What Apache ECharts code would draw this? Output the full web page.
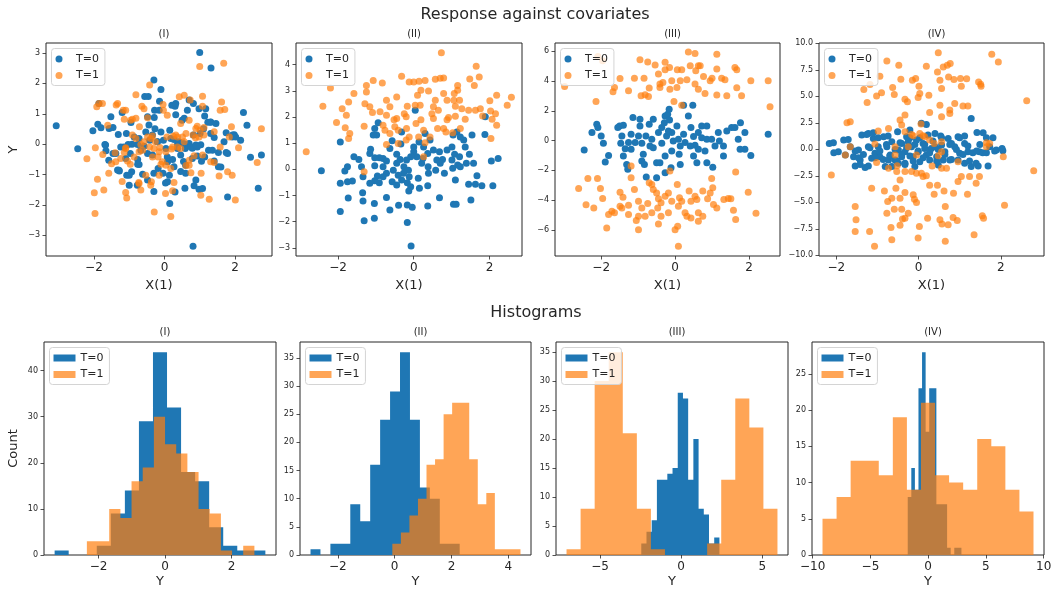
<!DOCTYPE html>
<html><head><meta charset="utf-8">
<script src="https://cdn.jsdelivr.net/npm/echarts@6/dist/echarts.min.js"></script>
<style>html,body{margin:0;padding:0;background:#fff}#c{width:1055px;height:591px}</style>
</head><body><div id="c"></div>
<script>
// ---------------- DATA ----------------
const panelNames = ['(I)', '(II)', '(III)', '(IV)'];
const seriesNames = ['T=0', 'T=1'];

// Scatter: response Y against covariate X(1)
const s1T0 = [[1.0,3.02],[1.32,2.51],[-3.07,0.61],[-2.46,-0.15],[-2.03,0.44],[-1.86,1.34],[-0.30,2.11],[-0.10,1.80],[0.81,-3.36],[2.24,1.04],[2.34,0.62],[2.75,-0.36],[2.44,-0.43],[2.66,-1.45],[1.79,-1.74],[0.15,-1.95],[-0.30,-1.56],[0.30,-1.57],[0.58,-1.45],[0.98,-1.48],[0.84,-1.37],[1.53,-0.74],[1.75,-0.27],[1.53,-0.27],[1.92,0.24],[1.98,0.31],[1.75,0.38],[1.31,0.72],[1.23,0.72],[1.14,0.93],[1.11,0.51],[0.82,1.34],[0.70,1.45],[0.30,1.25],[0.21,1.28],[0.32,0.97],[0.50,0.79],[-0.14,1.41],[-0.28,1.12],[-0.56,1.57],[-0.46,1.57],[-0.48,0.90],[-0.29,0.88],[-0.95,0.71],[-1.20,1.04],[-1.52,0.90],[-1.46,0.55],[-1.31,0.32],[-1.08,0.35],[-0.92,0.00],[-0.97,-0.31],[-1.46,-0.31],[-1.69,-0.01],[-1.66,-0.22],[-1.58,-0.53],[-1.33,-0.85],[-1.07,-1.02],[-0.93,-0.91],[-0.76,-0.50],[-0.72,-0.67],[-0.48,-1.18],[-0.62,-0.99],[-0.18,-0.80],[-0.04,-0.96],[0.03,-1.28],[0.14,-1.02],[0.27,-0.74],[0.46,-0.90],[0.54,-0.57],[0.79,-0.13],[0.70,0.02],[0.93,-0.09],[1.03,-0.02],[0.93,-0.39],[1.14,-0.42],[1.05,-0.56],[1.41,-0.55],[1.25,-0.20],[1.41,0.22],[1.31,0.35],[0.54,0.02],[0.59,-0.14],[0.37,0.00],[0.27,0.15],[0.15,0.46],[-0.03,0.13],[-0.20,0.08],[-0.27,0.51],[-0.34,0.30],[-0.42,0.13],[-0.58,-0.07],[-0.48,-0.31],[-0.76,-0.01],[-0.67,-0.20],[-0.86,0.24],[-1.03,-0.01],[-1.15,-0.09],[-1.24,-0.09],[-0.76,-0.66],[-1.28,-0.88],[0.08,-0.42],[0.23,-0.50],[0.37,-0.14],[0.82,0.30],[1.01,0.35],[2.16,0.13],[1.69,0.08],[0.65,1.12],[-1.89,0.66],[-1.80,0.54],[-1.57,0.52],[-1.67,-0.03],[-1.38,-0.31],[-1.29,-0.86],[-1.00,-1.02],[-0.72,0.19],[-0.53,0.40],[-0.44,0.63],[-0.34,-0.36],[-0.20,0.08],[-0.15,1.12],[-0.10,0.40],[0.04,-0.14],[0.09,-0.58],[0.18,0.19],[0.32,1.34],[0.41,0.08],[0.46,-0.36],[0.56,0.85],[0.60,-0.69],[0.75,-0.09],[0.79,-0.47],[0.89,-0.03],[0.98,1.17],[1.17,1.17],[1.31,0.73],[1.36,-0.20],[1.46,0.68],[1.60,-0.75],[1.79,-0.31],[1.93,0.30],[2.02,0.24],[-1.10,-0.47],[-1.00,-1.35],[-0.77,-1.35],[-0.30,-0.96],[0.09,-1.24],[0.60,-0.96],[0.89,-1.18],[1.08,-1.46]];
const s1T1 = [[1.0,2.56],[1.68,2.66],[-0.42,1.95],[-0.81,1.63],[-1.92,1.23],[-1.76,1.34],[-1.37,1.29],[-1.17,1.12],[-1.14,0.82],[-0.91,0.82],[-0.71,0.57],[-0.64,1.25],[-0.48,0.87],[-0.04,1.31],[0.08,0.95],[0.42,1.56],[0.56,1.61],[0.73,1.45],[1.08,1.58],[1.08,1.25],[1.62,1.39],[1.71,1.14],[1.58,1.12],[1.90,0.57],[2.75,0.51],[2.10,-0.12],[2.63,-0.60],[1.92,-1.02],[2.01,-1.84],[1.27,-1.81],[1.03,-1.68],[1.04,-0.96],[0.75,-0.94],[0.61,-0.70],[0.70,-0.53],[0.84,-0.38],[1.08,-0.36],[0.88,0.21],[1.01,0.46],[0.81,0.30],[0.61,0.35],[0.70,0.79],[0.93,0.59],[1.12,0.55],[0.51,0.24],[0.37,0.24],[0.25,0.26],[0.07,0.24],[0.20,-0.16],[0.04,-0.25],[-0.13,-0.11],[-0.18,-0.42],[-0.10,-0.66],[0.04,-0.69],[0.18,-0.80],[-0.34,-0.42],[-0.42,-0.09],[-0.26,0.08],[-0.34,0.27],[-0.58,0.08],[-0.72,-0.25],[-0.86,-0.42],[-1.05,-0.55],[-0.97,-0.66],[-1.24,-0.47],[-1.40,-0.28],[-1.50,-0.64],[-1.58,-0.96],[-1.10,-0.12],[-1.14,-0.27],[-1.75,-0.34],[-1.96,-0.12],[-2.20,-0.48],[-1.61,0.62],[-1.90,-1.15],[-1.72,-1.51],[-1.99,-1.60],[-1.97,-2.28],[-1.10,-1.59],[-1.07,-1.77],[-1.20,-1.23],[-0.73,-1.26],[-0.67,-1.51],[-0.37,-1.24],[-0.29,-2.23],[0.18,-2.38],[0.03,-1.62],[0.23,-1.53],[0.27,-1.26],[1.41,-0.60],[1.55,-1.05],[1.41,0.41],[1.58,-0.09],[1.84,0.24],[0.46,0.68],[-0.03,1.12],[0.37,-0.09],[-0.48,0.24],[-0.81,0.19],[-0.67,-0.01],[-1.86,1.34],[-1.33,1.34],[-1.10,1.12],[-0.96,0.79],[-0.81,0.85],[-0.58,1.17],[-0.91,0.30],[-0.62,-0.20],[-0.39,0.19],[-0.30,-0.14],[-0.15,-0.25],[-0.06,-0.58],[0.23,-0.09],[0.32,0.30],[0.46,-0.14],[0.56,0.08],[0.89,0.52],[0.98,0.24],[1.12,0.30],[-1.10,-0.14],[-1.38,-0.58],[-0.53,-1.02],[-0.15,-1.02],[-0.72,-1.29],[-0.39,-1.35],[0.70,-0.69],[1.79,-0.91],[1.31,-0.58]];
const s2T0 = [[-0.07,-2.93],[-0.17,-2.03],[-1.31,-1.96],[-1.04,-1.87],[-1.94,-1.61],[-1.73,-1.09],[-1.35,-0.89],[-1.34,-1.21],[-1.04,-1.30],[-0.72,-1.07],[-0.63,-1.55],[-0.40,-1.37],[-0.17,-1.36],[-0.04,-1.45],[0.37,-1.40],[0.68,-1.08],[1.05,-1.33],[1.12,-1.33],[1.51,-1.17],[1.45,-0.57],[1.63,-0.57],[1.80,-0.63],[2.09,-0.63],[2.05,0.32],[2.23,0.42],[1.88,1.33],[1.89,2.01],[1.54,1.31],[1.32,1.12],[1.36,0.86],[1.47,0.58],[1.14,1.43],[1.23,1.24],[1.04,1.31],[1.01,0.86],[1.08,0.58],[1.21,0.48],[1.01,0.36],[1.16,0.17],[1.03,0.04],[1.23,0.10],[1.39,0.23],[1.58,0.23],[1.67,-0.24],[1.10,-0.41],[0.81,-0.15],[0.58,-0.03],[0.39,-0.15],[0.38,0.10],[0.61,0.36],[0.76,0.38],[0.68,0.67],[0.88,0.74],[0.52,0.74],[0.37,0.61],[0.26,0.86],[0.14,1.05],[0.43,1.12],[0.04,2.26],[0.0,0.67],[0.08,0.48],[-0.08,0.48],[-0.19,0.36],[-0.26,0.10],[-0.14,-0.03],[-0.27,-0.15],[-0.12,-0.28],[-0.17,-0.51],[-0.08,-0.66],[-0.13,-0.83],[0.15,-0.72],[0.37,-0.63],[-0.32,-0.41],[-0.41,-0.22],[-0.54,-0.03],[-0.45,0.23],[-0.36,0.38],[-0.45,0.58],[-0.63,0.80],[-0.57,1.09],[-0.34,0.97],[-0.81,0.42],[-0.72,0.32],[-0.91,0.44],[-1.03,0.44],[-1.03,0.14],[-0.81,0.10],[-0.72,-0.15],[-0.81,-0.28],[-0.96,-0.25],[-0.91,-0.51],[-1.03,-0.43],[-1.16,-0.53],[-1.34,-0.28],[-1.38,0.10],[-1.45,0.38],[-1.58,0.48],[-1.16,0.61],[-1.14,0.77],[-0.98,1.31],[-1.07,1.31],[-1.03,1.56],[-0.94,1.78],[-1.94,1.05],[-1.75,0.10],[-1.82,-0.06],[-1.75,-0.47],[-1.62,-0.44],[-1.94,-0.53],[-2.44,-0.05],[-0.32,1.43],[0.70,0.23],[0.21,0.23],[0.24,0.42],[0.0,0.86],[0.30,1.37],[0.12,-0.34],[-0.45,-0.60],[-0.57,-0.47]];
const s2T1 = [[0.73,4.46],[1.65,3.94],[1.73,3.53],[1.48,3.45],[1.60,3.21],[1.16,3.21],[1.16,3.02],[1.07,2.90],[0.79,2.90],[0.88,2.64],[1.06,2.64],[1.21,2.64],[1.10,2.41],[1.27,2.32],[1.45,2.26],[1.63,2.26],[1.82,2.04],[2.03,2.23],[2.16,2.13],[2.01,2.62],[2.19,2.83],[2.58,2.76],[2.47,2.45],[2.07,1.92],[2.19,1.69],[2.04,1.18],[1.10,2.03],[0.92,1.98],[0.79,1.56],[0.63,1.56],[0.85,1.43],[0.52,1.94],[0.65,2.26],[0.52,2.39],[0.48,2.13],[0.57,2.64],[0.57,3.44],[0.70,3.48],[0.79,3.49],[0.30,3.40],[0.14,3.37],[0.0,3.34],[-0.12,3.34],[0.19,3.02],[0.39,3.00],[0.10,2.83],[0.17,2.45],[0.04,2.45],[0.19,1.90],[0.06,1.75],[0.26,1.50],[0.13,1.24],[-0.12,1.24],[-0.19,1.56],[-0.20,2.01],[-0.17,2.41],[-0.25,2.13],[-0.45,1.94],[-0.52,1.90],[-0.50,1.63],[-0.41,1.50],[-0.63,1.37],[-0.76,1.50],[-0.81,1.69],[-0.72,2.07],[-0.89,2.20],[-0.63,2.39],[-0.72,2.64],[-0.45,2.77],[-0.32,3.56],[-0.83,3.30],[-1.07,3.40],[-1.25,3.21],[-1.25,2.96],[-1.29,2.51],[-1.16,2.39],[-1.09,2.17],[-1.31,1.65],[-1.58,2.90],[-1.72,2.58],[-1.89,2.32],[-1.78,2.07],[-2.04,1.79],[-1.81,1.59],[-1.69,1.37],[-1.72,1.18],[-2.20,3.11],[-2.40,2.41],[-2.84,0.67],[-1.31,-0.09],[-0.72,0.95],[-0.41,0.99],[-0.20,1.12],[0.43,1.24],[0.26,0.48],[0.30,1.02],[0.88,1.90],[1.36,1.92],[1.76,2.32],[1.23,1.56],[1.03,1.40]];
const s3T0 = [[-2.46,-0.63],[-2.25,0.54],[-2.12,1.10],[-2.09,0.88],[-2.0,0.31],[-1.94,-0.18],[-1.89,-1.44],[-1.80,-0.99],[-1.55,0.88],[-1.50,0.99],[-1.40,1.03],[-1.44,0.31],[-1.47,-0.18],[-1.40,-1.03],[-1.31,-1.60],[-1.28,-1.93],[-1.14,1.55],[-1.19,0.43],[-1.26,-0.13],[-1.19,-0.58],[-1.08,-0.13],[-0.99,0.31],[-0.95,1.44],[-0.95,0.99],[-0.90,-0.18],[-0.86,-0.92],[-0.90,-1.37],[-0.83,-1.60],[-0.78,-2.45],[-0.70,1.10],[-0.63,0.09],[-0.59,-0.47],[-0.50,-1.48],[-0.50,-2.49],[-0.45,0.54],[-0.36,-0.18],[-0.36,0.88],[-0.29,1.21],[-0.27,1.66],[-0.20,1.78],[-0.16,2.11],[-0.15,1.39],[-0.23,0.31],[-0.27,-1.03],[-0.27,-2.16],[-0.41,-1.48],[-0.09,0.54],[-0.05,-0.02],[-0.09,-0.70],[0.09,0.09],[0.11,-0.92],[0.23,0.43],[0.27,-0.13],[0.23,2.38],[0.48,2.38],[0.36,1.66],[0.43,0.88],[0.50,0.27],[0.54,-0.31],[0.50,-1.03],[0.59,-1.48],[0.63,0.54],[0.72,0.99],[0.86,0.99],[0.72,0.20],[0.86,0.09],[0.81,-0.70],[0.86,-1.48],[1.02,-1.78],[0.99,0.09],[1.17,0.54],[1.20,-0.02],[1.31,-0.36],[1.31,-1.03],[1.40,0.65],[1.53,0.88],[1.62,0.88],[1.71,0.09],[1.77,1.21],[1.89,0.54],[1.89,-0.58],[1.76,-0.58],[2.05,-0.99],[2.52,0.43],[0.14,-1.60],[-0.11,-1.82],[-0.79,0.31],[-0.68,-0.36],[-1.35,-0.54],[0.05,0.99],[0.41,-0.36],[1.08,-0.36],[0.63,-0.58],[-0.18,0.65],[-0.59,1.44],[0.14,-0.36]];
const s3T1 = [[-2.99,3.64],[-2.14,2.63],[-2.09,5.66],[-1.96,5.37],[-1.68,3.28],[-1.64,3.57],[-1.49,4.18],[-1.26,3.35],[-1.10,4.20],[-0.95,5.44],[-0.84,4.20],[-0.74,5.28],[-0.92,3.01],[-0.81,3.08],[-0.70,3.53],[-0.54,5.08],[-0.45,4.47],[-0.41,3.57],[-0.41,3.80],[-0.33,3.91],[-0.27,5.26],[-0.27,4.76],[-0.15,4.92],[-0.09,4.02],[-0.03,2.63],[0.06,4.76],[0.14,4.02],[0.18,4.76],[0.32,4.09],[0.36,5.95],[0.41,5.03],[0.54,5.85],[0.56,4.70],[0.63,5.03],[0.68,5.03],[0.77,4.31],[0.81,3.17],[0.95,4.02],[1.13,5.80],[1.13,4.81],[1.26,4.20],[1.35,4.09],[1.40,3.01],[1.62,4.92],[1.67,4.76],[1.67,3.55],[1.80,3.01],[2.05,4.02],[2.52,4.02],[2.57,2.27],[0.18,2.38],[0.63,3.46],[1.13,3.06],[0.05,3.57],[-0.72,2.97],[-0.14,3.46],[0.54,3.80],[1.0,4.20],[-2.61,-3.21],[-2.36,-2.54],[-2.10,-2.54],[-2.41,-4.31],[-2.20,-4.52],[-2.02,-3.21],[-1.96,-3.89],[-1.85,-5.87],[-1.80,-4.97],[-1.71,-4.74],[-1.64,-4.85],[-1.49,-3.46],[-1.41,-3.80],[-1.49,-4.40],[-1.26,-4.34],[-1.19,-1.71],[-1.19,-2.49],[-1.10,-3.28],[-0.99,-4.07],[-1.26,-4.97],[-1.05,-5.37],[-0.99,-5.98],[-0.99,-5.08],[-0.81,-5.08],[-0.74,-4.22],[-0.70,-2.83],[-0.63,-2.94],[-0.63,-4.85],[-0.59,-3.28],[-0.50,-3.51],[-0.45,-3.91],[-0.47,-4.52],[-0.45,-5.60],[-0.38,-5.08],[-0.38,-4.18],[-0.27,-3.73],[-0.18,-3.51],[-0.18,-4.85],[-0.14,-2.04],[-0.09,-4.07],[0.0,-5.98],[0.07,-5.75],[0.09,-7.10],[0.06,-2.94],[0.12,-3.84],[0.18,-4.07],[0.27,-4.85],[0.32,-5.08],[0.38,-3.39],[0.43,-4.07],[0.43,-5.19],[0.59,-3.96],[0.63,-4.85],[0.63,-5.42],[0.75,-3.39],[0.75,-5.08],[0.88,-3.91],[0.95,-3.51],[1.02,-3.17],[0.99,-2.54],[1.04,-4.29],[1.32,-3.96],[1.44,-3.89],[1.51,-3.91],[1.58,-4.67],[1.64,-2.11],[1.64,-5.30],[1.98,-3.46],[2.19,-4.88],[-1.44,-4.52],[-0.90,-4.52],[1.13,-4.52],[0.54,-3.73],[0.09,-4.40]];
const s4T0 = [[-2.17,0.56],[-2.06,-0.31],[-1.82,0.88],[-1.66,0.25],[-1.58,-0.69],[-1.54,-1.57],[-1.42,-1.0],[-1.38,1.35],[-1.30,-1.72],[-1.22,1.50],[-1.22,0.25],[-1.10,1.03],[-1.06,-0.38],[-0.94,-0.69],[-0.85,1.19],[-0.81,-1.63],[-0.77,0.25],[-0.69,-0.53],[-0.65,0.72],[-0.57,-1.0],[-0.51,1.66],[-0.49,-0.06],[-0.41,0.56],[-0.41,-0.69],[-0.33,-1.32],[-0.29,1.19],[-0.21,1.82],[-0.17,0.25],[-0.13,-0.69],[-0.05,0.88],[-0.01,-0.22],[0.03,-1.16],[0.07,2.45],[0.11,0.56],[0.19,-0.53],[0.23,1.35],[0.31,0.09],[0.40,1.50],[0.44,-0.69],[0.48,-1.47],[0.56,0.41],[0.64,-0.22],[0.72,1.03],[0.76,-1.0],[0.88,0.25],[0.96,1.19],[1.0,-0.38],[1.12,-1.32],[1.20,-0.22],[1.28,2.92],[1.28,-1.63],[1.40,-1.32],[1.42,1.60],[1.48,-0.22],[1.65,1.10],[1.69,-1.57],[1.73,0.25],[1.89,-0.06],[2.05,-0.13],[-1.46,-0.06],[-0.98,0.25],[-0.73,-1.0],[-0.33,-0.22],[-0.25,0.72],[0.15,0.09],[0.27,-1.0],[0.80,0.56],[1.12,0.56],[1.32,-0.31],[1.56,-0.31],[-1.78,-0.53],[-0.49,-1.32],[0.60,-1.0],[-0.09,-1.63],[-0.65,-1.63],[-1.14,-0.85],[0.54,1.25],[0.96,-1.0],[0.40,0.25],[-2.07,0.62],[-1.95,-0.23],[-1.71,0.93],[-1.54,-0.16],[-1.46,-0.79],[-1.42,-1.42],[-1.34,-0.48],[-1.26,1.40],[-1.22,-1.57],[-1.18,0.15],[-1.10,1.56],[-1.06,-0.79],[-0.98,1.09],[-0.94,-0.16],[-0.86,-0.95],[-0.78,0.46],[-0.74,1.25],[-0.70,-0.63],[-0.57,-0.01],[-0.53,-1.10],[-0.45,0.62],[-0.41,-0.48],[-0.33,-1.42],[-0.29,0.15],[-0.21,1.09],[-0.21,-0.63],[-0.13,-1.10],[-0.09,0.46],[-0.01,-0.16],[0.03,1.09],[0.11,-0.79],[0.15,0.46],[0.19,2.34],[0.27,-0.32],[0.35,0.78],[0.44,-1.10],[0.48,-0.01],[0.56,1.09],[0.64,-0.48],[0.76,0.46],[0.80,-0.95],[0.92,-0.01],[1.00,1.09],[1.08,-0.48],[1.12,1.25],[1.20,0.31],[1.24,-1.10],[1.41,-0.16],[1.45,-1.57],[1.49,0.46],[1.57,1.56],[1.65,-0.32],[1.81,1.09],[1.85,-0.16],[2.03,0.08]];
const s4T1 = [[0.48,9.12],[1.78,8.97],[1.94,8.24],[-0.77,8.34],[-0.48,7.93],[-0.94,6.90],[-1.18,6.11],[-1.33,5.64],[-1.25,4.42],[-1.02,5.02],[-0.90,5.33],[-0.63,5.83],[-0.59,5.17],[-0.43,6.61],[-0.33,4.73],[-0.27,4.48],[-0.15,6.52],[-0.07,6.68],[0.01,5.96],[0.03,5.27],[-0.01,4.89],[0.19,7.84],[0.25,5.11],[0.27,3.48],[0.46,7.30],[0.52,6.52],[0.56,5.74],[0.60,7.77],[0.70,7.93],[0.77,8.09],[0.73,6.83],[0.86,6.58],[1.02,6.68],[1.17,6.65],[1.04,5.96],[0.88,4.33],[1.08,4.08],[1.20,4.08],[0.76,3.70],[0.76,3.39],[0.56,3.07],[0.52,4.17],[1.46,6.36],[1.51,6.14],[1.52,5.96],[2.63,4.58],[-0.33,3.23],[-0.45,2.76],[-0.73,1.97],[-0.98,1.72],[-1.74,2.51],[-1.66,2.60],[-1.66,0.25],[-2.12,-2.41],[-1.78,-0.53],[-1.06,0.50],[-1.02,-1.25],[-0.57,0.25],[-0.57,-0.53],[-0.53,-2.10],[-0.41,2.29],[-0.33,1.66],[-0.13,1.29],[0.06,2.38],[0.15,1.19],[0.27,0.88],[0.38,0.56],[0.56,0.72],[0.56,-0.22],[0.48,-0.60],[-0.05,-0.53],[-0.25,0.25],[-0.17,1.41],[0.03,1.50],[0.11,1.29],[-0.73,-1.79],[-0.52,-1.54],[-0.33,-2.10],[-0.17,-2.10],[-0.05,-2.26],[0.11,-2.57],[0.19,-2.48],[0.07,-2.26],[0.33,-1.57],[0.56,-1.79],[0.96,-1.16],[1.24,-2.57],[1.04,-2.57],[0.96,-3.04],[1.48,-2.57],[1.40,-3.20],[1.65,0.25],[1.73,0.56],[1.65,0.63],[2.06,-0.69],[2.80,-2.01],[-1.14,-3.67],[-0.83,-3.92],[-0.55,-3.67],[-0.45,-2.88],[-0.33,-4.08],[-0.65,-4.61],[-0.75,-4.92],[-0.45,-4.61],[-0.13,-4.29],[-0.10,-4.70],[-0.05,-5.02],[0.27,-3.39],[0.38,-4.23],[0.46,-3.39],[0.62,-3.92],[0.85,-4.14],[1.19,-4.23],[2.09,-5.27],[-1.54,-5.39],[-1.52,-6.65],[-1.54,-7.74],[-1.19,-7.74],[-1.07,-9.15],[-0.77,-6.02],[-0.59,-5.64],[-0.41,-5.64],[-0.25,-6.02],[-0.39,-6.58],[-0.33,-6.49],[-0.67,-7.37],[-0.45,-7.15],[-0.65,-8.53],[0.02,-7.27],[-0.01,-8.37],[0.22,-6.49],[0.52,-6.65],[0.57,-7.05],[0.65,-5.39],[0.65,-8.68],[0.72,-7.12],[0.84,-6.43],[0.94,-6.71],[1.35,-8.06],[1.55,-6.27],[1.58,-6.49],[0.68,-1.79]];

// Histograms of Y: [min, max] of each sample and counts per (equal-width) bin
const h1T0Range = [-3.32, 3.02], h1T0Counts = [1,0,0,2,9,14,29,44,32,18,16,6,2,1,1];
const h1T1Range = [-2.35, 2.69], h1T1Counts = [3,3,10,8,16,19,30,24,22,18,10,9,1,0,2];
const h2T0Range = [-2.96, 2.29], h2T0Counts = [1,0,2,2,9,6,16,24,29,36,24,12,10,2,2];
const h2T1Range = [-0.08, 4.43], h2T1Counts = [2,4,7,10,16,17,25,27,27,17,9,11,1,1,1];
const h3T0Range = [-2.46, 2.36], h3T0Counts = [2,4,6,13,13,14,15,28,27,13,20,8,7,2,3];
const h3T1Range = [-7.07, 5.94], h3T1Counts = [1,8,30,35,21,8,1,0,0,0,2,13,27,22,8];
const h4T0Range = [-1.77, 2.88], h4T0Counts = [8,12,9,23,28,17,23,23,7,7,7,1,0,1,1];
const h4T1Range = [-9.15, 9.12], h4T1Counts = [5,8,13,13,11,19,9,21,11,10,9,16,15,9,6];

// Tick values
const scatterXTicks = [[-2,0,2],[-2,0,2],[-2,0,2],[-2,0,2]];
const scatterYTicks = [[-3,-2,-1,0,1,2,3],[-3,-2,-1,0,1,2,3,4],[-6,-4,-2,0,2,4,6],[-10,-7.5,-5,-2.5,0,2.5,5,7.5,10]];
const histXTicks = [[-2,0,2],[-2,0,2,4],[-5,0,5],[-10,-5,0,5,10]];
const histYTicks = [[0,10,20,30,40],[0,5,10,15,20,25,30,35],[0,5,10,15,20,25,30,35],[0,5,10,15,20,25]];

// ---------------- CHART ----------------
const FONT = 'DejaVu Sans';
const TXT = '#262626';
const BLUE = '#1f77b4', ORANGE = '#ff7f0e';
const scatterXRange = [[-3.36,3.05],[-3.11,2.86],[-3.25,2.84],[-2.42,3.05]];
const scatterYRange = [[-3.68,3.33],[-3.31,4.83],[-7.75,6.56],[-10.06,10.03]];
const histXRange = [[-3.64,3.34],[-3.33,4.80],[-7.72,6.59],[-10.06,10.03]];
const histYRange = [[0,46.2],[0,37.8],[0,36.75],[0,29.4]];
const topG = [{l:46,w:226},{l:296,w:226},{l:555,w:225},{l:819,w:225}];
const botG = [{l:44,w:232},{l:300,w:231},{l:556,w:232},{l:812,w:232}];
const TOP_Y = 43, BOT_Y = 342, GH = 213;

const minus = s => String(s).replace('-', '\u2212');
const grids = [], xAxes = [], yAxes = [], series = [], legends = [], titles = [];

function axis(idx, range, ticks, fmt, fontSize, name, nameGap) {
  return {
    type: 'value', gridIndex: idx, min: range[0], max: range[1], scale: true,
    axisLine: {show: false, onZero: false}, splitLine: {show: false},
    axisTick: {show: true, length: 3.5, lineStyle: {color: TXT, width: 0.8}, customValues: ticks},
    axisLabel: {customValues: ticks, formatter: fmt, fontSize: fontSize, color: TXT, fontFamily: FONT, margin: 6},
    name: name || '', nameLocation: 'middle', nameGap: nameGap || 0,
    nameTextStyle: {fontSize: 13, fontFamily: FONT, color: TXT}
  };
}

function legend(gl, gt, icon, iw) {
  return {
    left: gl + 5.5, top: gt + 5.5, orient: 'vertical', selectedMode: false,
    data: [{name: 'T=0', icon: icon, itemStyle: {color: BLUE, opacity: 1}},
           {name: 'T=1', icon: icon, itemStyle: {color: ORANGE, opacity: 0.7}}],
    itemWidth: iw, itemHeight: 7, itemGap: 4.5, padding: [4.5, 6, 4, 4],
    backgroundColor: 'rgba(255,255,255,0.8)', borderColor: '#d4d4d4', borderWidth: 1, borderRadius: 3,
    textStyle: {fontSize: 11, fontFamily: FONT, color: TXT, lineHeight: 12}
  };
}

function histBins(range, counts) {
  const n = counts.length, w = (range[1] - range[0]) / n;
  return counts.map((c, i) => [range[0] + i * w, range[0] + (i + 1) * w, c]);
}
function histSeries(idx, name, range, counts, color, opacity) {
  const bins = histBins(range, counts);
  return {
    type: 'custom', name: name, xAxisIndex: idx, yAxisIndex: idx,
    data: bins, encode: {x: [0, 1], y: 2},
    itemStyle: {color: color, opacity: opacity},
    renderItem: function (params, api) {
      // the whole histogram is drawn as one step outline, built from every bin
      if (params.dataIndex !== 0) return {type: 'group', children: []};
      const pts = [api.coord([bins[0][0], 0])];
      bins.forEach(b => { pts.push(api.coord([b[0], b[2]])); pts.push(api.coord([b[1], b[2]])); });
      pts.push(api.coord([bins[bins.length - 1][1], 0]));
      return {type: 'polygon', shape: {points: pts}, style: {fill: color, opacity: opacity}};
    }
  };
}

const scatterData = [[s1T0, s1T1], [s2T0, s2T1], [s3T0, s3T1], [s4T0, s4T1]];
const histData = [[[h1T0Range,h1T0Counts],[h1T1Range,h1T1Counts]],[[h2T0Range,h2T0Counts],[h2T1Range,h2T1Counts]],
                  [[h3T0Range,h3T0Counts],[h3T1Range,h3T1Counts]],[[h4T0Range,h4T0Counts],[h4T1Range,h4T1Counts]]];

titles.push({text: 'Response against covariates', left: 530, top: 2, textAlign: 'center',
  textStyle: {fontSize: 16, fontWeight: 'normal', fontFamily: FONT, color: TXT}});
titles.push({text: 'Histograms', left: 531, top: 300, textAlign: 'center',
  textStyle: {fontSize: 16, fontWeight: 'normal', fontFamily: FONT, color: TXT}});

for (let i = 0; i < 4; i++) {
  const g = topG[i];
  grids.push({left: g.l, top: TOP_Y, width: g.w, height: GH, show: true, borderColor: TXT, borderWidth: 1, backgroundColor: 'transparent'});
  xAxes.push(axis(i, scatterXRange[i], scatterXTicks[i], v => minus(v), 12, 'X(1)', 23));
  const yfmt = i === 3 ? (v => minus(v.toFixed(1))) : (v => minus(v));
  yAxes.push(axis(i, scatterYRange[i], scatterYTicks[i], yfmt, 8, i === 0 ? 'Y' : '', 26));
  series.push({type: 'scatter', name: seriesNames[0], xAxisIndex: i, yAxisIndex: i, data: scatterData[i][0],
    symbolSize: 7, itemStyle: {color: BLUE, opacity: 1}});
  series.push({type: 'scatter', name: seriesNames[1], xAxisIndex: i, yAxisIndex: i, data: scatterData[i][1],
    symbolSize: 7, itemStyle: {color: ORANGE, opacity: 0.7}});
  legends.push(legend(g.l, TOP_Y, 'circle', 24));
  titles.push({text: panelNames[i], left: g.l + g.w / 2, top: 24, textAlign: 'center',
    textStyle: {fontSize: 10, fontWeight: 'normal', fontFamily: FONT, color: TXT}});
}
for (let i = 0; i < 4; i++) {
  const k = i + 4, g = botG[i];
  grids.push({left: g.l, top: BOT_Y, width: g.w, height: GH, show: true, borderColor: TXT, borderWidth: 1, backgroundColor: 'transparent'});
  xAxes.push(axis(k, histXRange[i], histXTicks[i], v => minus(v), 12, 'Y', 20));
  yAxes.push(axis(k, histYRange[i], histYTicks[i], v => minus(v), 8, i === 0 ? 'Count' : '', 24));
  series.push(histSeries(k, seriesNames[0], histData[i][0][0], histData[i][0][1], BLUE, 1));
  series.push(histSeries(k, seriesNames[1], histData[i][1][0], histData[i][1][1], ORANGE, 0.7));
  legends.push(legend(g.l, BOT_Y, 'rect', 22));
  titles.push({text: panelNames[i], left: g.l + g.w / 2, top: 322, textAlign: 'center',
    textStyle: {fontSize: 10, fontWeight: 'normal', fontFamily: FONT, color: TXT}});
}

const chart = echarts.init(document.getElementById('c'), null, {renderer: 'canvas'});
chart.setOption({
  animation: false, backgroundColor: '#fff',
  textStyle: {fontFamily: FONT},
  title: titles, grid: grids, xAxis: xAxes, yAxis: yAxes, legend: legends, series: series
});
</script></body></html>
